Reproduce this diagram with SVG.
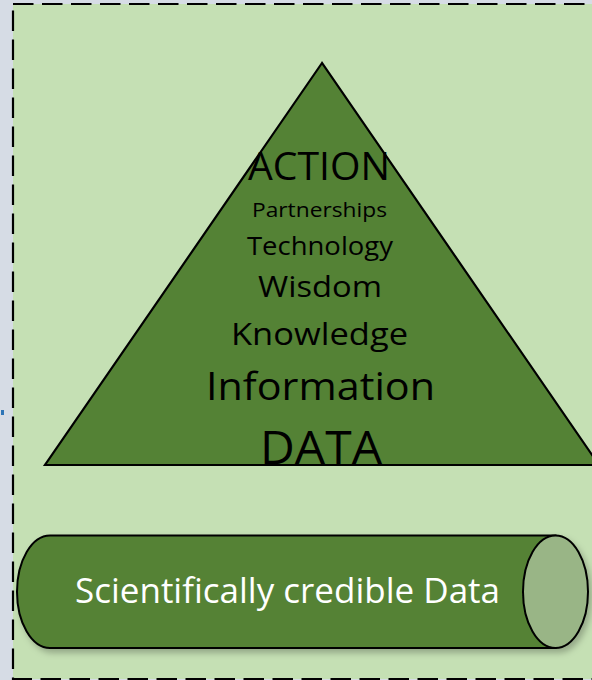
<svg xmlns="http://www.w3.org/2000/svg" width="592" height="680" viewBox="0 0 592 680">
  <style>
    .lbl { font-family: "Open Sans", "Liberation Sans", sans-serif; fill: #000; text-anchor: middle; }
    .cyl-text { font-family: "Open Sans", "Liberation Sans", sans-serif; fill: #fff; text-anchor: middle; }
  </style>
  <defs>
    <filter id="shadow" x="-5%" y="-10%" width="115%" height="130%">
      <feDropShadow dx="3" dy="4" stdDeviation="3" flood-color="#000" flood-opacity="0.25"/>
    </filter>
  </defs>
  <rect x="0" y="0" width="592" height="680" fill="#d6dce5"/>
  <rect x="1" y="410" width="3" height="5" fill="#2e75b6"/>
  <g id="frame">
    <rect x="13" y="4" width="600" height="675" fill="#c5e0b4" stroke="#000" stroke-width="2.2" stroke-dasharray="20.5 8.5"/>
  </g>
  <g id="pyramid">
    <polygon points="322,63 45,465 599,465" fill="#548235" stroke="#000" stroke-width="2.2" stroke-linejoin="miter"/>
    <text class="lbl" x="319" y="180" font-size="39" textLength="142" lengthAdjust="spacingAndGlyphs">ACTION</text>
    <text class="lbl" x="319.5" y="217" font-size="20" textLength="135" lengthAdjust="spacingAndGlyphs">Partnerships</text>
    <text class="lbl" x="320" y="255" font-size="25" textLength="146" lengthAdjust="spacingAndGlyphs">Technology</text>
    <text class="lbl" x="320" y="297" font-size="29.5" textLength="124" lengthAdjust="spacingAndGlyphs">Wisdom</text>
    <text class="lbl" x="319.5" y="345" font-size="31" textLength="177" lengthAdjust="spacingAndGlyphs">Knowledge</text>
    <text class="lbl" x="320.5" y="400" font-size="39" textLength="229" lengthAdjust="spacingAndGlyphs">Information</text>
    <text class="lbl" x="321" y="464" font-size="45" textLength="122" lengthAdjust="spacingAndGlyphs">DATA</text>
  </g>
  <g id="cylinder">
    <g filter="url(#shadow)">
      <path d="M50,535.5 L555.5,535.5 L555.5,648 L50,648 A33,56.25 0 0 1 50,535.5 Z" fill="#548235" stroke="#000" stroke-width="2"/>
      <ellipse cx="555.5" cy="591.75" rx="32.5" ry="56.25" fill="#99b586" stroke="#000" stroke-width="2"/>
    </g>
    <text class="cyl-text" x="287.5" y="603" font-size="34" textLength="425" lengthAdjust="spacingAndGlyphs">Scientifically credible Data</text>
  </g>
</svg>
